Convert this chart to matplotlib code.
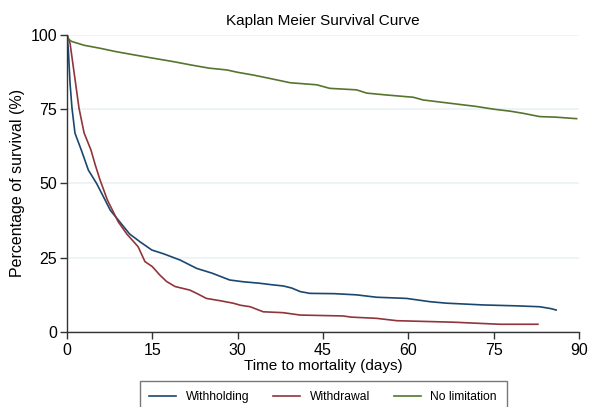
import matplotlib
matplotlib.use('Agg')
import matplotlib.pyplot as plt

# Kaplan-Meier curves (day, survival %)
withhold_t = [0, 0.23, 0.53, 0.87, 1.4, 2.5, 3.75, 5.2, 6.7, 7.6, 9.3, 11, 12.8, 14.9, 17,
              19.9, 22.8, 25.5, 28.6, 31, 33.9, 36, 38, 39.5, 41, 42.7, 47, 50.9,
              54.4, 59.7, 63.8, 66.7, 73.2, 79, 83.1, 85, 86]
withhold_s = [100, 95, 83.7, 75.4, 66.9, 61.3, 54.5, 50, 44.4, 41, 37, 33, 30.4, 27.6, 26.3,
              24.2, 21.4, 19.8, 17.5, 16.9, 16.4, 15.9, 15.5, 14.8, 13.6, 13.0, 12.9, 12.5,
              11.7, 11.3, 10.2, 9.7, 9.1, 8.8, 8.5, 7.9, 7.4]

withdraw_t = [0, 0.53, 1.1, 2.1, 3, 4.2, 5, 5.8, 7.1, 9, 10.5, 12.5, 13.7, 15, 16.3,
              17.5, 19, 21.6, 23, 24.5, 27, 29.2, 30.5, 32.2, 34.5, 38, 41, 48.5,
              50, 54.4, 58, 67.9, 76.1, 82.8]
withdraw_s = [100, 97.2, 89.3, 75.4, 67, 61.3, 56, 51.2, 44.4, 37.1, 33, 28.7, 23.7, 22, 19.2,
              17, 15.3, 14.1, 12.8, 11.3, 10.5, 9.7, 9, 8.5, 6.8, 6.5, 5.7, 5.4,
              5.0, 4.6, 3.8, 3.3, 2.6, 2.6]

nolimit_t = [0, 0.3, 0.8, 3, 5.8, 8.5, 11.7, 15, 18.7, 22, 25, 28.1, 30, 32.7,
             36, 39.2, 43.9, 46.2, 50.9, 52.7, 56, 60.9, 62.6, 66, 69, 72, 75,
             78, 80.2, 83.1, 86, 89.6]
nolimit_s = [100, 98.5, 97.8, 96.5, 95.5, 94.4, 93.3, 92.2, 91.0, 89.8, 88.8, 88.2, 87.4, 86.5,
             85.2, 83.9, 83.2, 82.0, 81.5, 80.4, 79.8, 79.0, 78.1, 77.3, 76.6, 75.9, 75.0,
             74.3, 73.6, 72.5, 72.3, 71.8]

plt.rcParams['font.family'] = ['Liberation Sans', 'DejaVu Sans']

fig = plt.figure(figsize=(5.89, 4.07), dpi=100)
ax = fig.add_axes([0.1138, 0.1843, 0.869, 0.730])

ax.plot(withhold_t, withhold_s, color='#1a476f', lw=1.2, label='Withholding')
ax.plot(withdraw_t, withdraw_s, color='#90353b', lw=1.2, label='Withdrawal')
ax.plot(nolimit_t, nolimit_s, color='#55752f', lw=1.2, label='No limitation')

ax.set_xlim(0, 90)
ax.set_ylim(0, 100)
ax.set_xticks([0, 15, 30, 45, 60, 75, 90])
ax.set_yticks([0, 25, 50, 75, 100])
ax.yaxis.grid(True, color='#eaf2f3', lw=1.2)
ax.set_axisbelow(True)
for s in ['top', 'right']:
    ax.spines[s].set_visible(False)
for s in ['left', 'bottom']:
    ax.spines[s].set_color('#333333')
    ax.spines[s].set_linewidth(1.0)
ax.tick_params(direction='out', length=5, width=1.0, color='#333333', labelsize=11.5, pad=2)
ax.tick_params(axis='x', pad=3)

ax.set_xlabel('Time to mortality (days)', fontsize=11, labelpad=1)
ax.set_ylabel('Percentage of survival (%)', fontsize=11.5, labelpad=4)
ax.set_title('Kaplan Meier Survival Curve', fontsize=11, pad=7)

# legend box runs off the bottom edge like in the original
leg = fig.legend(loc='upper center', bbox_to_anchor=(0.5487, 0.0630), ncol=3, fontsize=8.7,
                 frameon=True, fancybox=False, handlelength=2.2, columnspacing=2.0,
                 borderpad=0.8, handletextpad=0.8, borderaxespad=0)
leg.get_frame().set_edgecolor('#555555')
leg.get_frame().set_linewidth(1.0)

fig.savefig('out.png', dpi=100)
